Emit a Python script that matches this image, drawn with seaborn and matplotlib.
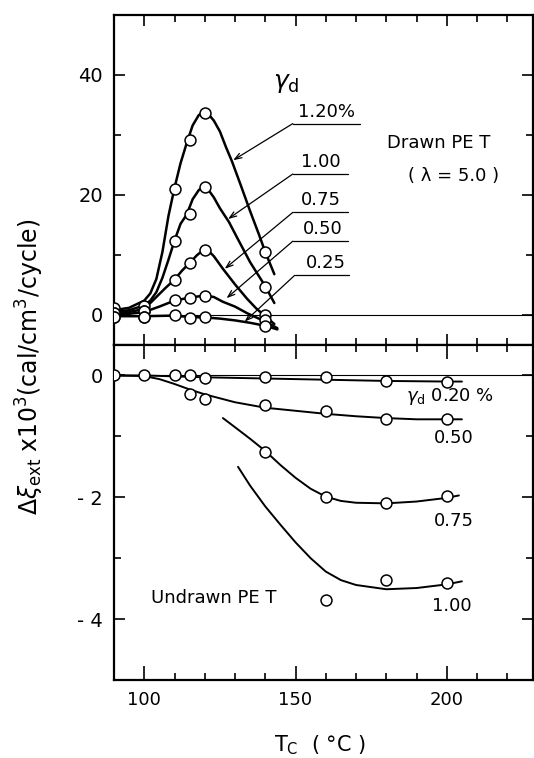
import numpy as np
import pandas as pd
import matplotlib
matplotlib.use("Agg")
import matplotlib.pyplot as plt
import seaborn as sns

sns.set_style("ticks", {"axes.edgecolor": "black", "xtick.color": "black",
                        "ytick.color": "black", "text.color": "black",
                        "axes.labelcolor": "black"})
plt.rcParams['font.family'] = ['DejaVu Sans']
plt.rcParams['mathtext.fontset'] = 'dejavusans'

# ---- drawn PET (top panel): measured points ----
t_top = [90, 100, 110, 115, 120, 140]
drawn_pts = {
    "1.20%": [1.1, 1.5, 21.0, 29.1, 33.7, 10.5],
    "1.00": [0.4, 0.7, 12.4, 16.9, 21.3, 4.7],
    "0.75": [0.4, 0.7, 5.9, 8.7, 10.9, 0.0],
    "0.50": [-0.3, -0.3, 2.5, 2.9, 3.2, -0.8],
    "0.25": [-0.3, -0.3, 0.0, -0.55, -0.4, -1.8],
}

# drawn PET: fitted curves
t_c120 = [90, 95, 100, 102, 104, 106, 108, 110, 112, 114, 116, 118, 119.5, 121, 123, 125, 127, 129, 132, 135, 138, 140, 143]
v_c120 = [0.8, 1.2, 2.4, 3.6, 6.0, 10.5, 16.5, 21.2, 25.3, 28.6, 31.6, 33.3, 33.8, 33.6, 32.4, 30.6, 28.0, 25.6, 21.5, 17.3, 13.3, 10.5, 6.8]
t_c100 = [90, 95, 100, 102, 104, 106, 108, 110, 112, 114, 116, 118, 119.5, 121, 123, 125, 128, 131, 135, 140, 143]
v_c100 = [0.5, 0.8, 1.6, 2.4, 3.8, 6.2, 9.2, 12.4, 15.2, 16.7, 19.3, 20.8, 21.4, 21.0, 19.6, 17.8, 15.5, 12.6, 8.8, 4.8, 2.0]
t_c075 = [90, 95, 100, 104, 107, 110, 112.5, 115, 117.5, 119.5, 121, 123, 126, 130, 134, 137, 140, 143]
v_c075 = [0.3, 0.5, 1.0, 3.0, 4.5, 5.9, 7.4, 8.7, 10.0, 10.8, 10.8, 9.8, 7.7, 5.1, 2.7, 1.1, -0.2, -1.5]
t_c050 = [90, 95, 100, 105, 110, 115, 120, 123, 126, 130, 134, 137, 140.5, 144]
v_c050 = [0.1, 0.2, 0.5, 1.4, 2.4, 2.9, 3.25, 3.0, 2.2, 1.4, 0.3, -0.4, -1.2, -2.2]
t_c025 = [90, 100, 110, 115, 120, 125, 130, 135, 140, 144]
v_c025 = [-0.2, -0.2, -0.1, -0.35, -0.4, -0.6, -0.9, -1.3, -1.8, -2.4]

# ---- undrawn PET (bottom panel): measured points ----
t_u020 = [90, 100, 110, 115, 120, 140, 160, 180, 200]
v_u020 = [0.0, 0.0, 0.0, 0.0, -0.04, -0.02, -0.02, -0.09, -0.1]
t_u050 = [115, 120, 140, 160, 180, 200]
v_u050 = [-0.30, -0.38, -0.49, -0.59, -0.71, -0.71]
t_u075 = [140, 160, 180, 200]
v_u075 = [-1.25, -1.99, -2.09, -1.98]
t_u100 = [160, 180, 200]
v_u100 = [-3.68, -3.35, -3.40]

# undrawn PET: curves
t_l020 = [90, 100, 120, 140, 160, 180, 200, 205]
v_l020 = [0.0, 0.0, -0.03, -0.05, -0.07, -0.09, -0.1, -0.1]
t_l050 = [90, 100, 105, 110, 115, 120, 130, 140, 150, 160, 170, 180, 190, 200, 205]
v_l050 = [0.0, -0.01, -0.06, -0.14, -0.23, -0.31, -0.44, -0.53, -0.58, -0.63, -0.67, -0.70, -0.72, -0.72, -0.72]
t_l075 = [126, 130, 135, 140, 145, 150, 155, 160, 165, 170, 180, 190, 200, 204]
v_l075 = [-0.70, -0.85, -1.04, -1.24, -1.47, -1.68, -1.86, -1.99, -2.06, -2.09, -2.10, -2.07, -2.01, -1.97]
t_l100 = [131, 135, 140, 145, 150, 155, 160, 165, 170, 180, 190, 200, 205]
v_l100 = [-1.50, -1.81, -2.15, -2.45, -2.74, -3.0, -3.22, -3.36, -3.44, -3.51, -3.49, -3.43, -3.38]

drawn_curves = [(t_c120, v_c120), (t_c100, v_c100), (t_c075, v_c075), (t_c050, v_c050), (t_c025, v_c025)]
undrawn_curves = [(t_l020, v_l020), (t_l050, v_l050), (t_l075, v_l075), (t_l100, v_l100)]
undrawn_pts = [(t_u020, v_u020), (t_u050, v_u050), (t_u075, v_u075), (t_u100, v_u100)]

# label, text x, text y, underline x0, x1, underline y, arrow tip x, y
drawn_labels = [
    ("1.20%", 160.3, 32.4, 149.1, 171.2, 31.9, 129.4, 25.8),
    ("1.00", 158.3, 24.0, 149.1, 167.2, 23.5, 127.7, 16.0),
    ("0.75", 158.5, 17.6, 149.1, 167.2, 17.1, 126.6, 7.7),
    ("0.50", 159.0, 12.8, 149.1, 167.2, 12.3, 127.2, 2.8),
    ("0.25", 160.2, 7.1, 149.7, 167.7, 6.6, 133.2, -1.1),
]
undrawn_labels = [
    (r"$\gamma_{\rm d}$ 0.20 %", 200.9, -0.35),
    ("0.50", 202.4, -1.03),
    ("0.75", 202.2, -2.39),
    ("1.00", 201.5, -3.79),
]

W, H = 534, 758
fig = plt.figure(figsize=(W / 100, H / 100), dpi=100)
ax1 = fig.add_axes([114 / W, 1 - 345 / H, 419 / W, 330 / H])
ax2 = fig.add_axes([114 / W, 1 - 680 / H, 419 / W, 335 / H])

mk = dict(s=62, facecolor="white", edgecolor="black", linewidth=1.1, zorder=4, legend=False)

# top panel
ax1.axhline(0, color="black", lw=0.8, zorder=1)
for t, v in drawn_curves:
    sns.lineplot(x=t, y=v, ax=ax1, color="black", lw=1.8, sort=False, estimator=None, zorder=2)
for name, vals in drawn_pts.items():
    sns.scatterplot(x=t_top, y=vals, ax=ax1, **mk)

for lab, tx, ty, u0, u1, uy, ax_, ay_ in drawn_labels:
    ax1.text(tx, ty, lab, ha="center", va="bottom", fontsize=13)
    ax1.plot([u0, u1], [uy, uy], color="black", lw=0.9)
    ax1.annotate("", xy=(ax_, ay_), xytext=(u0, uy),
                 arrowprops=dict(arrowstyle="->,head_length=0.5,head_width=0.18",
                                 color="black", lw=0.9, shrinkA=0, shrinkB=0))

ax1.text(146.8, 38.6, r"$\gamma_{\rm d}$", ha="center", va="center", fontsize=18)
ax1.text(197.3, 28.7, "Drawn PE T", ha="center", va="center", fontsize=13)
ax1.text(202.2, 23.2, "( λ = 5.0 )", ha="center", va="center", fontsize=13)

# bottom panel
ax2.axhline(0, color="black", lw=0.8, zorder=1)
for t, v in undrawn_curves:
    sns.lineplot(x=t, y=v, ax=ax2, color="black", lw=1.4, sort=False, estimator=None, zorder=2)
for t, v in undrawn_pts:
    sns.scatterplot(x=t, y=v, ax=ax2, **mk)
for lab, tx, ty in undrawn_labels:
    ax2.text(tx, ty, lab, ha="center", va="center", fontsize=13)
ax2.text(123, -3.65, "Undrawn PE T", ha="center", va="center", fontsize=13)

# axes styling
for ax in (ax1, ax2):
    ax.set_xlim(90, 228.5)
    ax.set_xticks([100, 150, 200])
    ax.set_xticks(np.arange(110, 230, 10), minor=True)
    ax.tick_params(which="both", direction="in", top=True, right=True, width=1.2,
                   pad=8)
    ax.tick_params(axis="y", labelsize=14)
    ax.tick_params(axis="x", labelsize=13)
    ax.tick_params(which="major", length=8)
    ax.tick_params(which="minor", length=5)
    for s in ax.spines.values():
        s.set_linewidth(1.6)
        s.set_color("black")
    ax.set_xlabel("")
    ax.set_ylabel("")

ax1.set_ylim(-5, 50)
ax1.set_yticks([0, 20, 40])
ax1.set_yticks([10, 30], minor=True)
ax1.tick_params(labelbottom=False)

ax2.set_ylim(-5, 0.5)
ax2.set_yticks([0, -2, -4])
ax2.set_yticklabels(["0", "- 2", "- 4"])
ax2.set_yticks([-1, -3], minor=True)
ax2.tick_params(axis="x", which="major", length=10)

fig.text(320 / W, 1 - 745 / H, r"T$_{\rm C}$  ( °C )", ha="center", va="center", fontsize=15)
fig.text(30 / W, 1 - 367 / H, r"$\Delta\xi_{\rm ext}$ x10$^3$(cal/cm$^3$/cycle)",
         ha="center", va="center", rotation=90, fontsize=17)

fig.savefig("out.png", dpi=100)
